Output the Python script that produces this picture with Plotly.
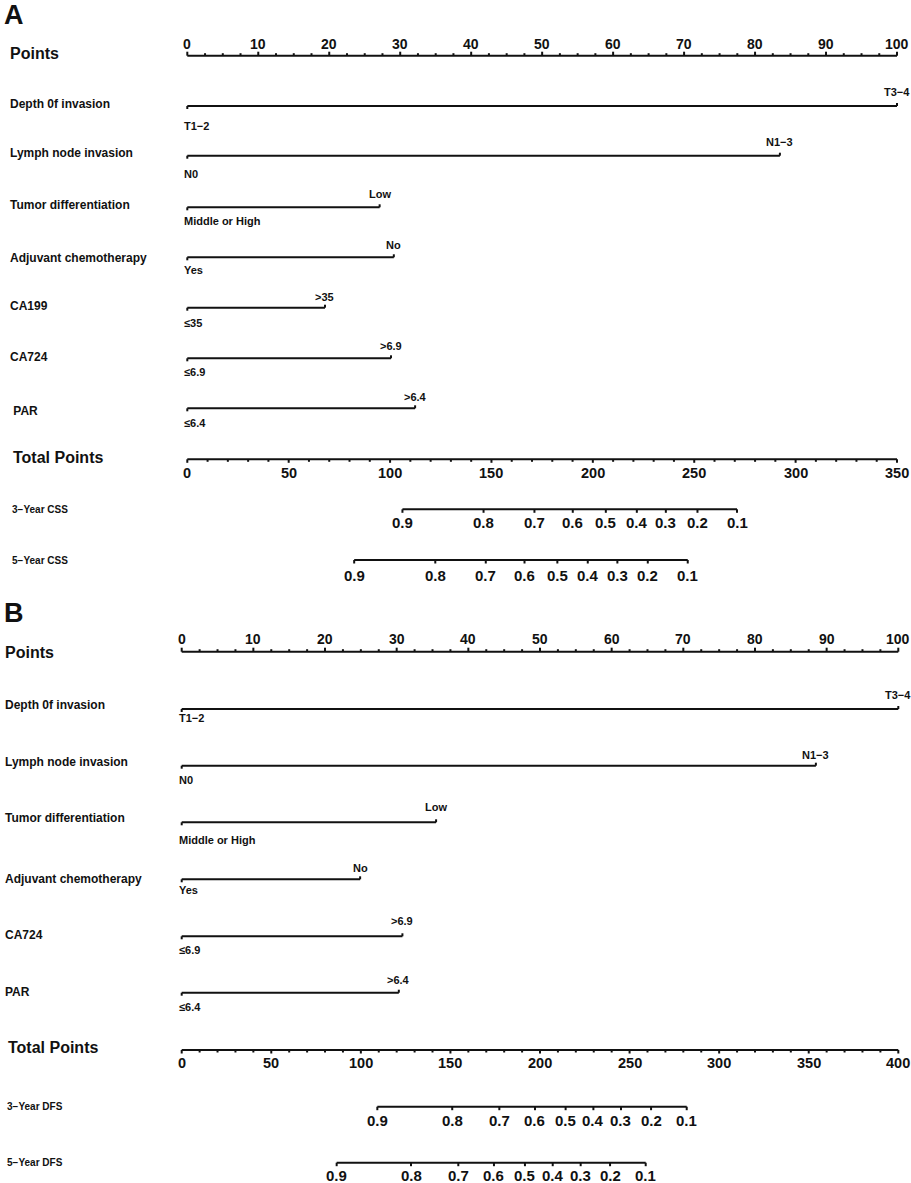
import plotly.graph_objects as go

# ---- data ----
probs = [0.9, 0.8, 0.7, 0.6, 0.5, 0.4, 0.3, 0.2, 0.1]

# panel A (CSS)
varsA = ["Depth 0f invasion", "Lymph node invasion", "Tumor differentiation",
         "Adjuvant chemotherapy", "CA199", "CA724", " PAR"]
lowA = ["T1−2", "N0", "Middle or High", "Yes", "≤35", "≤6.9", "≤6.4"]
highA = ["T3−4", "N1−3", "Low", "No", ">35", ">6.9", ">6.4"]
highPtsA = [100, 83.5, 27.1, 29.1, 19.4, 28.7, 32.1]
totalMaxA = 350
css3A = [106.1, 146.1, 171.2, 190.1, 206.4, 221.7, 236.0, 251.6, 271.1]
css5A = [82.3, 122.3, 147.2, 166.3, 182.5, 197.5, 212.1, 227.1, 246.8]

# panel B (DFS)
varsB = ["Depth 0f invasion", "Lymph node invasion", "Tumor differentiation",
         "Adjuvant chemotherapy", "CA724", "PAR"]
lowB = ["T1−2", "N0", "Middle or High", "Yes", "≤6.9", "≤6.4"]
highB = ["T3−4", "N1−3", "Low", "No", ">6.9", ">6.4"]
highPtsB = [100, 88.5, 35.5, 24.9, 30.8, 30.3]
totalMaxB = 400
dfs3B = [109.2, 151.0, 177.3, 197.2, 214.3, 229.8, 245.2, 262.0, 281.9]
dfs5B = [86.5, 128.0, 154.4, 174.3, 191.6, 207.1, 222.7, 239.1, 259.0]

W, H = 911, 1183
FONT = "Liberation Sans, Arial, Helvetica, sans-serif"
INK = "#111111"

# layout (pixel rows, y grows downwards)
panelA = dict(letter="A", letterY=15, px0=187.3, px1=897, labX=9,
              xa="x", xt="x2",
              vars=varsA, low=lowA, high=highA, highPts=highPtsA, totalMax=totalMaxA,
              pointsY=55.7, pointsLabY=44, pointsTitleY=53,
              lineY=[106, 155.7, 207.3, 257.3, 307.7, 358.3, 408.3],
              varY=[103.5, 152.5, 205, 258, 305.8, 357, 411.3],
              highY=[92, 142, 193.8, 245.2, 296.8, 346.2, 397],
              lowY=[126, 174, 220.7, 270, 323.3, 371.5, 422.5],
              totalY=459.3, totalLabY=472.8, totalTitleY=457.5,
              probRows=[("3−Year CSS", css3A, 509.3, 522.5), ("5−Year CSS", css5A, 560, 575)])
panelB = dict(letter="B", letterY=612.5, px0=181.7, px1=898.3, labX=4,
              xa="x3", xt="x4",
              vars=varsB, low=lowB, high=highB, highPts=highPtsB, totalMax=totalMaxB,
              pointsY=651.7, pointsLabY=639, pointsTitleY=652,
              lineY=[709, 765.7, 822.3, 879.3, 936.3, 992.7],
              varY=[705, 761.7, 817.5, 878.7, 935, 992],
              highY=[695, 755.3, 807, 868.3, 921.3, 980],
              lowY=[718.3, 780, 839.7, 890, 950, 1007],
              totalY=1050, totalLabY=1063.3, totalTitleY=1047.5,
              probRows=[("3−Year DFS", dfs3B, 1106.7, 1120), ("5−Year DFS", dfs5B, 1162.7, 1175.5)])

fig = go.Figure()
annots = []


def addText(s, x, y, xref, size, xanchor="center", xshift=0):
    annots.append(dict(text=s, x=x, y=y, xref=xref, yref="y", xanchor=xanchor,
                       yanchor="middle", showarrow=False, xshift=xshift, borderpad=0,
                       font=dict(family=FONT, size=size, color=INK, weight="bold")))


def seg(buf, x0, y0, x1, y1):
    buf[0] += [x0, x1, None]
    buf[1] += [y0, y1, None]


def drawPanel(p):
    ptsBuf, totBuf = [[], []], [[], []]
    labX = p["labX"] / W

    addText(p["letter"], 3 / W, p["letterY"], "paper", 27, "left")

    # Points scale (ticks up, labels above)
    addText("Points", labX, p["pointsTitleY"], "paper", 16, "left")
    y = p["pointsY"]
    seg(ptsBuf, 0, y, 100, y)
    for i in range(41):
        v = i * 2.5
        seg(ptsBuf, v, y, v, y - (4 if i % 4 == 0 else 2.5))
        if i % 4 == 0:
            addText(str(int(v)), v, p["pointsLabY"], p["xa"], 14)

    # predictor rows
    for k, name in enumerate(p["vars"]):
        ly = p["lineY"][k]
        hp = p["highPts"][k]
        addText(name, labX, p["varY"][k], "paper", 12, "left")
        seg(ptsBuf, 0, ly, hp, ly)
        seg(ptsBuf, 0, ly, 0, ly + 3)
        seg(ptsBuf, hp, ly, hp, ly - 3)
        addText(p["low"][k], 0, p["lowY"][k], p["xa"], 11, "left", -4)
        addText(p["high"][k], hp, p["highY"][k], p["xa"], 11)

    # Total points scale (ticks down, labels below)
    addText("Total Points", labX + 3 / W, p["totalTitleY"], "paper", 16, "left")
    y = p["totalY"]
    seg(totBuf, 0, y, p["totalMax"], y)
    for v in range(0, p["totalMax"] + 1, 10):
        seg(totBuf, v, y, v, y + (3.5 if v % 50 == 0 else 2.5))
        if v % 50 == 0:
            addText(str(v), v, p["totalLabY"], p["xt"], 14.5)

    # survival probability scales
    for title, tps, ly, labY in p["probRows"]:
        addText(title, labX + 2 / W, ly, "paper", 10, "left")
        seg(totBuf, min(tps), ly, max(tps), ly)
        for pr, tp in zip(probs, tps):
            seg(totBuf, tp, ly, tp, ly + 3.5)
            addText(f"{pr:.1f}", tp, labY, p["xt"], 15)

    for buf, xa in ((ptsBuf, p["xa"]), (totBuf, p["xt"])):
        fig.add_trace(go.Scatter(x=buf[0], y=buf[1], xaxis=xa, yaxis="y", mode="lines",
                                 line=dict(color=INK, width=2), hoverinfo="skip",
                                 showlegend=False))


drawPanel(panelA)
drawPanel(panelB)


def axisRange(p, top):
    span = p["px1"] - p["px0"]
    return [-p["px0"] / span * top, (W - p["px0"]) / span * top]


hidden = dict(visible=False, showgrid=False, zeroline=False, domain=[0, 1], anchor="y")
fig.update_layout(
    width=W, height=H,
    margin=dict(l=0, r=0, t=0, b=0),
    paper_bgcolor="white", plot_bgcolor="white",
    xaxis=dict(hidden, range=axisRange(panelA, 100)),
    xaxis2=dict(hidden, range=axisRange(panelA, panelA["totalMax"]), overlaying="x"),
    xaxis3=dict(hidden, range=axisRange(panelB, 100), overlaying="x"),
    xaxis4=dict(hidden, range=axisRange(panelB, panelB["totalMax"]), overlaying="x"),
    yaxis=dict(visible=False, showgrid=False, zeroline=False, range=[H, 0], domain=[0, 1]),
    annotations=annots,
)

# page body has a default 8px margin; drop it so the figure sits at the corner
fig.write_html("out.html", config={"displayModeBar": False},
               post_script="document.body.style.margin='0';")
